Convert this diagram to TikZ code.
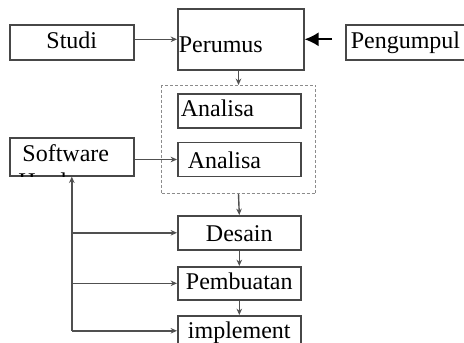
\documentclass[tikz,border=0pt]{standalone}
\usepackage{fontspec}
\setmainfont{Liberation Serif}
\usetikzlibrary{arrows.meta, calc}
\definecolor{garis}{HTML}{505050}
\tikzstyle{kotak}=[draw=black!72, line width=0.8pt, inner sep=0pt, anchor=north west, minimum width=61.5pt, minimum height=17pt, text height=8.2pt, text depth=2.4pt, font=\fontsize{12}{14}\selectfont]
\tikzstyle{kiri}=[align=left]
\tikzstyle{grup}=[draw=black!45, dash pattern=on 1.5pt off 1pt, line width=0.5pt, anchor=north west, inner sep=0pt]
\tikzstyle{panah}=[garis, line width=0.7pt, -{Stealth[length=3.2pt, width=2.8pt]}]
\tikzstyle{panahbesar}=[black, line width=0.8pt, -{Latex[length=7pt, width=7pt]}]

\begin{document}
\begin{tikzpicture}[x=1pt, y=-1pt]
	\useasboundingbox (0,0) rectangle (232,171);
	\clip (0,0) rectangle (232,171);

	% Baris atas
	\node[kotak, minimum width=62pt, minimum height=17.5pt] (studi) at (4.5,12) {Studi};
	\node[kotak, kiri, minimum height=30.5pt, text width=62pt, inner xsep=0.5pt, text height=13.5pt, text depth=0pt] (perumus) at (88.5,4) {Perumus};
	\node[kotak, kiri, minimum height=17.5pt, text width=60pt, inner xsep=2.5pt] (pengumpul) at (172.5,12) {Pengumpul};

	% Kelompok analisa
	\node[grup, minimum width=77pt, minimum height=54pt] (grup) at (80.5,42.5) {};
	\node[kotak, kiri, text width=58.5pt, inner xsep=1.5pt] (analisa1) at (88.5,46.5) {Analisa};
	\node[kotak, kiri, text width=51.5pt, inner xsep=5pt, text height=8.8pt, text depth=0pt] (analisa2) at (88.5,70.85) {Analisa};

	% Software, baris kedua terpotong
	\node[kotak, minimum width=62pt, minimum height=19pt] (software) at (4.5,68.5) {};
	\begin{scope}
		\clip (software.north west) rectangle (software.south east);
		\node[anchor=north, align=center, inner sep=0pt, font=\fontsize{12}{14}\selectfont] (softteks) at ($(software.north)+(-3,3.7)$) {Software\\Hardware};
	\end{scope}

	% Alur bawah
	\node[kotak, text height=8.5pt, text depth=0pt] (desain) at (88.5,107.5) {Desain};
	\node[kotak, minimum height=16.5pt] (pembuatan) at (88.5,133) {Pembuatan};
	\node[kotak] (implement) at (88.5,157.5) {implement};

	% Panah
	\draw[panah] (studi.east |- perumus.west) -- (perumus.west);
	\draw[panahbesar, shorten <=6.5pt] (pengumpul.west |- perumus.east) -- (perumus.east);
	\draw[panah] (perumus.south -| grup.north) -- (grup.north);
	\draw[panah] (analisa2.west -| software.east) -- (analisa2.west);
	\draw[panah] (grup.south) -- (desain.north);
	\draw[panah] (desain) -- (pembuatan);
	\draw[panah] (pembuatan) -- (implement);

	\coordinate (bawah) at ($(software.south |- implement.west)+(0,-1)$);
	\draw[panah] (bawah) -- (software.south);
	\draw[panah] (bawah) -- (bawah -| implement.west);
	\foreach \n in {desain, pembuatan}{
		\draw[panah] (software.south |- \n.west) -- (\n.west);
	}
\end{tikzpicture}
\end{document}
